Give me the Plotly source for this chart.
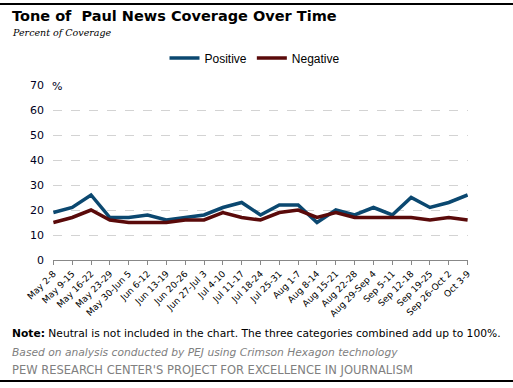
import plotly.graph_objects as go

weeks = ["May 2-8", "May 9-15", "May 16-22", "May 23-29", "May 30-Jun 5", "Jun 6-12",
         "Jun 13-19", "Jun 20-26", "Jun 27-Jul 3", "Jul 4-10", "Jul 11-17", "Jul 18-24",
         "Jul 25-31", "Aug 1-7", "Aug 8-14", "Aug 15-21", "Aug 22-28", "Aug 29-Sep 4",
         "Sep 5-11", "Sep 12-18", "Sep 19-25", "Sep 26-Oct 2", "Oct 3-9"]
positive = [19, 21, 26, 17, 17, 18, 16, 17, 18, 21, 23, 18, 22, 22, 15, 20, 18, 21, 18, 25, 21, 23, 26]
negative = [15, 17, 20, 16, 15, 15, 15, 16, 16, 19, 17, 16, 19, 20, 17, 19, 17, 17, 17, 17, 16, 17, 16]
y_ticks = [0, 10, 20, 30, 40, 50, 60, 70]

BLUE = "#0B4870"
RED = "#5A0A0A"
FONT = "DejaVu Sans"

W, H = 513, 388
# plot area in pixels
L, R, T, B = 53, 468, 85, 260


def px(xp):
    return xp / W


def py(yp):
    return 1 - yp / H


x = list(range(len(weeks)))
fig = go.Figure()
fig.add_trace(go.Scatter(x=x, y=positive, mode="lines", name="Positive",
                         line=dict(color=BLUE, width=3.5)))
fig.add_trace(go.Scatter(x=x, y=negative, mode="lines", name="Negative",
                         line=dict(color=RED, width=3.5)))

fig.update_layout(
    width=W, height=H,
    margin=dict(l=0, r=0, t=0, b=0, pad=0, autoexpand=False),
    paper_bgcolor="white", plot_bgcolor="white",
    font=dict(family=FONT, size=11, color="#000000"),
    showlegend=True,
    legend=dict(orientation="h", x=px(255), xanchor="center", y=py(58),
                yanchor="middle", font=dict(family="Liberation Sans", size=12),
                itemwidth=30, tracegroupgap=0),
    xaxis=dict(domain=[px(L), px(R)], tickmode="array", tickvals=x, ticktext=weeks,
               tickangle=-45, range=[-0.02, len(weeks) - 1 + 0.02],
               showgrid=False, showline=True, linecolor="#888888", linewidth=1,
               ticks="outside", ticklen=4, tickcolor="#888888",
               tickfont=dict(family=FONT, size=9, color="#000000"), zeroline=False),
    yaxis=dict(domain=[py(B), py(T)], range=[0, 70], tickvals=y_ticks, showgrid=True,
               gridcolor="#D3D3D3", griddash="dash", gridwidth=1, zeroline=False,
               showline=False, ticks="", ticklabelstandoff=8,
               tickfont=dict(family=FONT, size=11, color="#000022")),
)


def note(text, xp, yp, size, color, family=FONT):
    fig.add_annotation(text=text, xref="paper", yref="paper", x=px(xp), xanchor="left",
                       y=py(yp), yanchor="middle", showarrow=False,
                       font=dict(family=family, size=size, color=color))


note("<b>Tone of  Paul News Coverage Over Time</b>", 10, 16, 14.5, "#000000")
note("<i>Percent of Coverage</i>", 10, 32, 9.5, "#000000", "DejaVu Serif")
note("%", 50, 86, 11, "#000022")
note("<b>Note:</b> Neutral is not included in the chart. The three categories combined add up to 100%.",
     10, 333, 10.7, "#000000")
note("<i>Based on analysis conducted by PEJ using Crimson Hexagon technology</i>",
     10, 352, 10.7, "#808080")
note("PEW RESEARCH CENTER'S PROJECT FOR EXCELLENCE IN JOURNALISM", 10, 370, 11.5, "#808080")

# top and bottom rules
for yline in (4, 381):
    fig.add_shape(type="rect", xref="paper", yref="paper", x0=0, x1=1,
                  y0=py(yline + 1), y1=py(yline - 1), layer="above",
                  fillcolor="#000000", line=dict(width=0))

fig.write_html("out.html", config={"displayModeBar": False},
               post_script="document.body.style.margin='0';")
